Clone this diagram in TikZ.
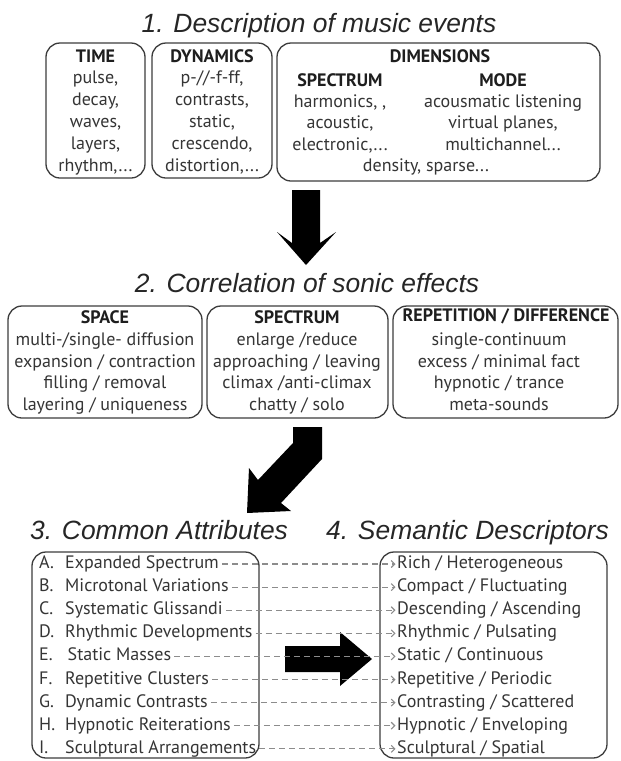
\documentclass[tikz,border=0pt]{standalone}
\usepackage{fontspec}
\setmainfont{PT Sans}
\newfontfamily\titlefont{Liberation Sans}
\usetikzlibrary{arrows.meta}
\definecolor{txt}{HTML}{353535}
\definecolor{hdr}{HTML}{1E1E1E}
\definecolor{boxc}{HTML}{3C3C3C}
\definecolor{dashc}{HTML}{8C8C8C}
\definecolor{ttlc}{HTML}{262626}
\tikzset{
 box/.style={draw=boxc, line width=1.3pt, rounded corners=14pt, inner sep=0pt, outer sep=0pt, anchor=north west},
 body/.style={font=\fontsize{18}{20}\selectfont, text=txt, inner sep=0pt, anchor=base},
 head/.style={font=\bfseries\fontsize{18}{20}\selectfont, text=hdr, inner sep=0pt, anchor=base},
 ttl/.style={font=\titlefont\itshape\fontsize{26.4}{30}\selectfont, text=ttlc, inner sep=0pt, anchor=base},
 row/.style={font=\fontsize{18}{20}\selectfont, text=txt, inner sep=0pt, text height=13pt, text depth=4pt},
 bigarrow/.style={fill=black, draw=none},
 link/.style={draw=dashc, line width=1.1pt, dash pattern=on 6pt off 4pt, -{Straight Barb[length=3.5pt,width=7pt]}},
}
\begin{document}
\begin{tikzpicture}[x=1pt,y=-1pt]
\useasboundingbox[fill=white] (0,0) rectangle (621,761);
% ---------- section 1
\node[ttl] (t1) at (319,32) {1. Description of music events};
\node[box, minimum width=99pt, minimum height=135pt] (time) at (46,43) {};
\node[box, minimum width=120pt, minimum height=135pt] (dyn) at (152,43) {};
\node[box, minimum width=323pt, minimum height=138pt] (dim) at (277,43) {};
\node[head] (timeh) at (95.5,62) {TIME};
\foreach \s/\y [count=\i] in {{pulse,}/83.5,{decay,}/105,{waves,}/127,{layers,}/149,{rhythm,...}/171}
  \node[body] (time\i) at (95.5,\y) {\s};
\node[head] (dynh) at (212,62) {DYNAMICS};
\foreach \s/\y [count=\i] in {{p-//-f-ff,}/83.5,{contrasts,}/105,{static,}/127,{crescendo,}/149,{distortion,...}/171}
  \node[body] (dyn\i) at (212,\y) {\s};
\node[head] (dimh) at (440,62) {DIMENSIONS};
\node[head] (spech) at (340,86) {SPECTRUM};
\node[head] (modeh) at (503,86) {MODE};
\foreach \s/\y [count=\i] in {{harmonics, ,}/107,{acoustic,}/128.5,{electronic,...}/150}
  \node[body] (specl\i) at (340,\y) {\s};
\foreach \s/\y [count=\i] in {{acousmatic listening}/107,{virtual planes,}/128.5,{multichannel...}/150}
  \node[body] (model\i) at (503,\y) {\s};
\node[body] (dens) at (426,171.5) {density, sparse...};
% arrow 1
\fill[bigarrow] (292,190) -- (320,190) -- (320,243) -- (336,232) -- (306,265) -- (277,232) -- (292,243) -- cycle;
% ---------- section 2
\node[ttl] (t2) at (307,292) {2. Correlation of sonic effects};
\node[box, minimum width=194pt, minimum height=112pt] (space) at (8,306) {};
\node[box, minimum width=181pt, minimum height=112pt] (spec) at (207,306) {};
\node[box, minimum width=225pt, minimum height=112pt] (rep) at (393,306) {};
\node[head] (spaceh) at (105,323.5) {SPACE};
\foreach \s/\y [count=\i] in {{multi-/single- diffusion}/345.5,{expansion / contraction}/367,{filling / removal}/388.5,{layering / uniqueness}/410}
  \node[body] (space\i) at (105,\y) {\s};
\node[head] (spech2) at (297,323.5) {SPECTRUM};
\foreach \s/\y [count=\i] in {{enlarge /reduce}/345.5,{approaching / leaving}/367,{climax /anti-climax}/388.5,{chatty / solo}/410}
  \node[body] (spec\i) at (297,\y) {\s};
\node[head] (reph) at (506,321) {REPETITION / DIFFERENCE};
\foreach \s/\y [count=\i] in {{single-continuum}/345.5,{excess / minimal fact}/367,{hypnotic / trance}/388.5,{meta-sounds}/410}
  \node[body] (rep\i) at (499,\y) {\s};
% arrow 2
\fill[bigarrow] (293,427) -- (322,427) -- (322,459) -- (281,503) -- (291,511) -- (247,513) -- (249,468) -- (258,480) -- (293,443) -- cycle;
% ---------- sections 3 and 4
\node[ttl, anchor=base west] (t3) at (30,539) {3. Common Attributes};
\node[ttl, anchor=base west] (t4) at (326,539) {4. Semantic Descriptors};
\node[box, minimum width=227pt, minimum height=206pt] (attr) at (32,552) {};
\node[box, minimum width=227pt, minimum height=206pt] (sem) at (380,552) {};
\fill[bigarrow] (285,646) -- (340,646) -- (340,632) -- (372,659) -- (340,686) -- (340,672) -- (285,672) -- cycle;
\foreach \a/\b/\c [count=\i] in {
  A./{Expanded Spectrum}/{Rich / Heterogeneous},
  B./{Microtonal Variations}/{Compact / Fluctuating},
  C./{Systematic Glissandi}/{Descending / Ascending},
  D./{Rhythmic Developments}/{Rhythmic / Pulsating},
  E./{\hspace{2.5pt}Static Masses}/{Static / Continuous},
  F./{Repetitive Clusters}/{Repetitive / Periodic},
  G./{Dynamic Contrasts}/{Contrasting / Scattered},
  H./{Hypnotic Reiterations}/{Hypnotic / Enveloping},
  I./{Sculptural Arrangements}/{Sculptural / Spatial}}{
  \pgfmathsetmacro\yb{564+(\i-1)*23.1+4.5}
  \node[row, anchor=base west] (l\i) at (39,\yb) {\makebox[26pt][l]{\a}\b};
  \node[row, anchor=base west] (r\i) at (397,\yb) {\c};
}
\foreach \i in {1,...,9}
  \draw[link] ([xshift=3pt]l\i.east) -- ([xshift=-1.5pt]r\i.west);
\end{tikzpicture}
\end{document}
